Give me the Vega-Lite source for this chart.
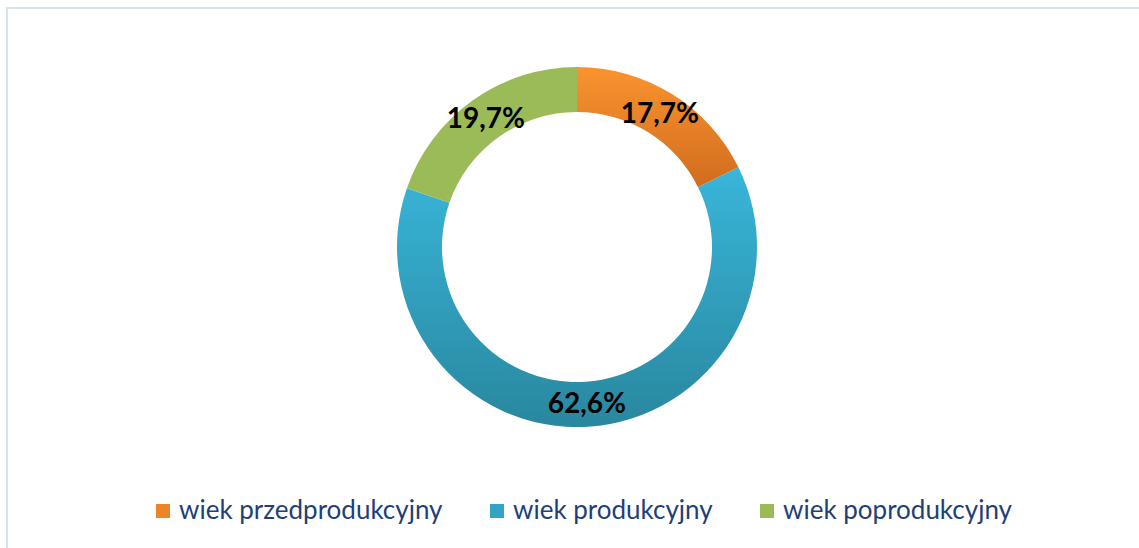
{
  "$schema": "https://vega.github.io/schema/vega-lite/v6.json",
  "width": 1137,
  "height": 545,
  "padding": {"left": 7, "top": 8, "right": 0, "bottom": 0},
  "autosize": {"type": "none"},
  "background": "white",
  "view": {"stroke": "#D5E2F0", "strokeWidth": 2, "fill": "white"},
  "config": {
    "view": {"stroke": "#D5E2F0", "strokeWidth": 2},
    "locale": {"number": {"decimal": ",", "thousands": " ", "grouping": [3], "currency": ["", " zł"]}}
  },
  "data": {
    "values": [
      {"kat": "wiek przedprodukcyjny", "udzial": 0.177, "kolejnosc": 1},
      {"kat": "wiek produkcyjny", "udzial": 0.626, "kolejnosc": 2},
      {"kat": "wiek poprodukcyjny", "udzial": 0.197, "kolejnosc": 3}
    ]
  },
  "layer": [
    {
      "mark": {"type": "arc", "radius": 180, "radius2": 135, "xOffset": 1.5, "yOffset": -33.5, "strokeWidth": 0},
      "encoding": {
        "theta": {"field": "udzial", "type": "quantitative", "stack": true},
        "order": {"field": "kolejnosc", "type": "quantitative"},
        "color": {
          "condition": [
            {"test": "datum.kolejnosc == 1", "value": {"gradient": "linear", "x1": 0, "y1": 0, "x2": 0, "y2": 1, "stops": [{"offset": 0, "color": "#F9942F"}, {"offset": 1, "color": "#D26C1E"}]}},
            {"test": "datum.kolejnosc == 2", "value": {"gradient": "linear", "x1": 0, "y1": 0, "x2": 0, "y2": 1, "stops": [{"offset": 0, "color": "#39B6D9"}, {"offset": 1, "color": "#29879F"}]}},
            {"test": "datum.kolejnosc == 3", "value": "#9BBB59"}
          ],
          "field": "kat",
          "type": "nominal",
          "scale": {
            "domain": ["wiek przedprodukcyjny", "wiek produkcyjny", "wiek poprodukcyjny"],
            "range": ["#EC8428", "#32A4C4", "#9BBB59"]
          },
          "legend": {
            "title": null,
            "orient": "none",
            "direction": "horizontal",
            "legendX": 143,
            "legendY": 490,
            "symbolType": "square",
            "symbolSize": 196,
            "symbolStrokeWidth": 0,
            "labelFont": "Lato",
            "labelFontSize": 26,
            "labelColor": "#1F3F77",
            "labelOffset": 3,
            "columnPadding": 41,
            "labelLimit": 400
          }
        }
      }
    },
    {
      "mark": {"type": "text", "radius": 157, "font": "Lato", "fontWeight": "bold", "fontSize": 28, "color": "black", "baseline": "middle", "align": "center", "xOffset": 1.5, "yOffset": -32.5},
      "encoding": {
        "theta": {"field": "udzial", "type": "quantitative", "stack": true},
        "order": {"field": "kolejnosc", "type": "quantitative"},
        "text": {"field": "udzial", "type": "quantitative", "format": ".1%"}
      }
    }
  ]
}
